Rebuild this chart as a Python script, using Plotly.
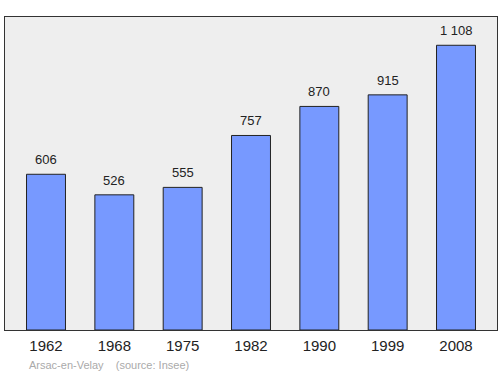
import plotly.graph_objects as go

years = ["1962", "1968", "1975", "1982", "1990", "1999", "2008"]
population = [606, 526, 555, 757, 870, 915, 1108]
labels = ["{:,}".format(v).replace(",", " ") for v in population]

fig = go.Figure()
fig.add_trace(go.Bar(
    x=list(range(len(years))), y=population,
    marker=dict(color="#7799ff", line=dict(color="#222", width=1)),
    width=0.57,
))
anns = [dict(x=i, y=v, text=t, xref="x", yref="y", showarrow=False,
             xanchor="center", yanchor="bottom", yshift=5,
             font=dict(size=13, color="#222"))
        for i, (v, t) in enumerate(zip(population, labels))]
anns.append(dict(text="Arsac-en-Velay &nbsp;&nbsp; (source: Insee)", xref="paper", yref="paper",
                 x=0.045, y=-0.112, xanchor="left", yanchor="middle", showarrow=False,
                 font=dict(size=11, color="#aaaaaa")))
fig.update_layout(
    width=500, height=374,
    margin=dict(l=5, r=3, t=17, b=44),
    paper_bgcolor="white", plot_bgcolor="#eeeeee",
    showlegend=False,
    font=dict(family="Liberation Sans, Arial, sans-serif"),
    xaxis=dict(range=[-0.6, 6.6], tickmode="array", tickvals=list(range(len(years))),
               ticktext=years, showgrid=False, zeroline=False,
               showline=True, mirror=True, linecolor="#333", linewidth=1,
               tickfont=dict(size=15, color="#222"), ticks="", ticklen=0,
               ticklabelstandoff=2),
    yaxis=dict(range=[0, 1218], showgrid=False, zeroline=False, showticklabels=False,
               showline=True, mirror=True, linecolor="#333", linewidth=1),
    annotations=anns,
)
fig.write_html("out.html")
